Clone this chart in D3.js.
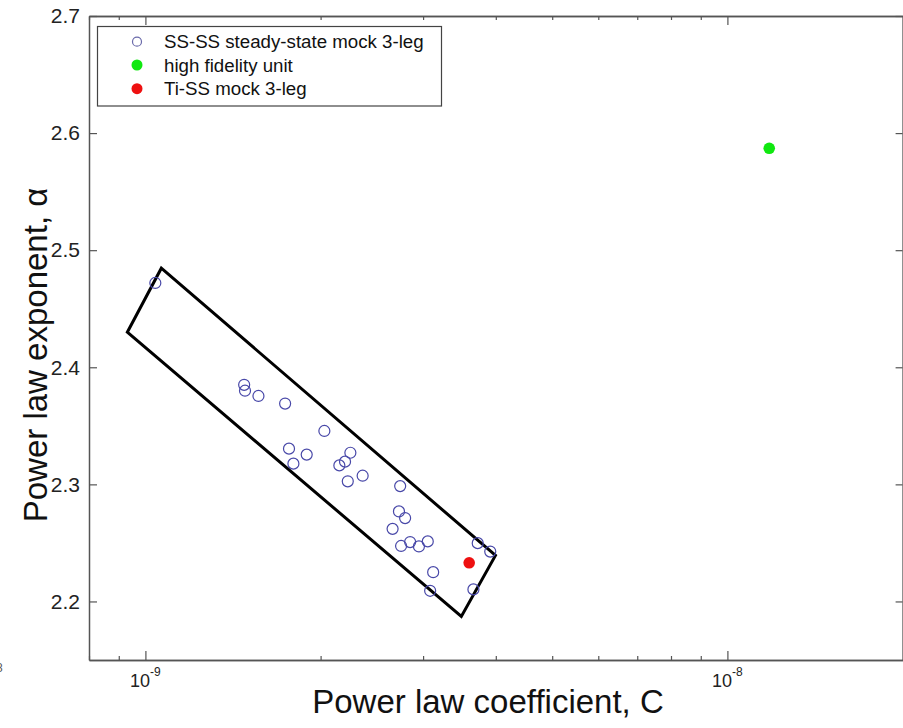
<!DOCTYPE html>
<html>
<head>
<meta charset="utf-8">
<script src="https://cdn.jsdelivr.net/npm/d3@7"></script>
<style>
  body { margin: 0; background: #fff; }
  svg { display: block; font-family: "Liberation Sans", Arial, sans-serif; }
</style>
</head>
<body>
<svg id="chart" width="903" height="728"></svg>
<script>
// SS-SS steady-state mock 3-leg (C in units of 1e-9)
const ssC = [1.04, 1.478, 1.483, 1.564, 1.738, 2.030, 1.765, 1.893, 1.796, 2.250, 2.203, 2.154, 2.227, 2.362,
             2.740, 2.727, 2.794, 2.659, 2.750, 2.850, 2.951, 3.056, 3.724, 3.913, 3.122, 3.085, 3.661];
const ssAlpha = [2.472, 2.385, 2.380, 2.3755, 2.369, 2.3456, 2.3305, 2.3254, 2.3177, 2.327, 2.3194, 2.3162, 2.3026, 2.3074,
                 2.2985, 2.2769, 2.2712, 2.262, 2.2474, 2.2507, 2.247, 2.2513, 2.2498, 2.2426, 2.225, 2.2091, 2.2103];

// single points
const hifiC = [11.8];
const hifiAlpha = [2.587];
const tiC = [3.60];
const tiAlpha = [2.233];

// outline drawn round the SS-SS cloud
const boxC = [1.065, 3.995, 3.49, 0.931];
const boxAlpha = [2.4846, 2.2393, 2.1872, 2.4299];

const yTicks = [2.2, 2.3, 2.4, 2.5, 2.6, 2.7];
const xMajor = [1e-9, 1e-8];
const xMinor = [8e-10, 9e-10, 2e-9, 3e-9, 4e-9, 5e-9, 6e-9, 7e-9, 8e-9, 9e-9];
const legendLabels = ['SS-SS steady-state mock 3-leg', 'high fidelity unit', 'Ti-SS mock 3-leg'];

const svg = d3.select('#chart');
const plotLeft = 89, plotRight = 902.6, plotTop = 16, plotBottom = 660;

let x = d3.scaleLog().domain([8e-10, 2e-8]).range([plotLeft, plotRight]);
let y = d3.scaleLinear().domain([2.15, 2.7]).range([plotBottom, plotTop]);

const axisColor = '#555';

function styleAxis(g) {
    g.selectAll('.domain').attr('stroke', axisColor).attr('stroke-width', 1.5);
    g.selectAll('.tick line').attr('stroke', axisColor).attr('stroke-width', 1.2);
    g.selectAll('.tick text').attr('fill', '#222').style('font-size', '21px');
}

// bottom & top log axes
svg.append('g').attr('transform', `translate(0,${plotBottom})`)
    .call(d3.axisBottom(x).tickValues(xMinor).tickSize(-4).tickSizeOuter(0).tickFormat(''))
    .call(styleAxis);
svg.append('g').attr('transform', `translate(0,${plotBottom})`)
    .call(d3.axisBottom(x).tickValues(xMajor).tickSize(-9).tickSizeOuter(0).tickFormat(''))
    .call(styleAxis);
svg.append('g').attr('transform', `translate(0,${plotTop})`)
    .call(d3.axisTop(x).tickValues(xMinor).tickSize(-4).tickSizeOuter(0).tickFormat(''))
    .call(styleAxis);
svg.append('g').attr('transform', `translate(0,${plotTop})`)
    .call(d3.axisTop(x).tickValues(xMajor).tickSize(-9).tickSizeOuter(0).tickFormat(''))
    .call(styleAxis);

// 10^n labels
let majorLabels = svg.append('g').selectAll('text').data(xMajor).join('text')
    .attr('x', d => x(d))
    .attr('y', 687)
    .attr('text-anchor', 'middle')
    .attr('fill', '#222')
    .style('font-size', '18px');
majorLabels.append('tspan').text('10');
majorLabels.append('tspan')
    .attr('dy', -11)
    .style('font-size', '12px')
    .text(d => Math.round(Math.log10(d)));

// left & right linear axes
svg.append('g').attr('transform', `translate(${plotLeft},0)`)
    .call(d3.axisLeft(y).tickValues(yTicks).tickSize(-8).tickSizeOuter(0).tickPadding(9).tickFormat(d3.format('.1f')))
    .call(styleAxis);
svg.append('g').attr('transform', `translate(${plotRight},0)`)
    .call(d3.axisRight(y).tickValues(yTicks).tickSize(-7).tickSizeOuter(0).tickFormat(''))
    .call(styleAxis);

// stray cut-off label at the far left
svg.append('text').attr('x', -4).attr('y', 672).attr('fill', '#555').style('font-size', '12px').text('8');

// outline box
let boxPts = boxC.map((c, i) => [x(c * 1e-9), y(boxAlpha[i])]);
svg.append('path')
    .attr('d', d3.line()(boxPts) + 'Z')
    .attr('fill', 'none')
    .attr('stroke', '#000')
    .attr('stroke-width', 3)
    .attr('stroke-linejoin', 'miter');

// SS-SS open circles
svg.append('g').selectAll('circle').data(ssC).join('circle')
    .attr('cx', d => x(d * 1e-9))
    .attr('cy', (d, i) => y(ssAlpha[i]))
    .attr('r', 5.5)
    .attr('fill', 'none')
    .attr('stroke', '#4848a8')
    .attr('stroke-width', 1.2);

svg.append('g').selectAll('circle').data(hifiC).join('circle')
    .attr('cx', d => x(d * 1e-9))
    .attr('cy', (d, i) => y(hifiAlpha[i]))
    .attr('r', 5.8)
    .attr('fill', '#10e810');

svg.append('g').selectAll('circle').data(tiC).join('circle')
    .attr('cx', d => x(d * 1e-9))
    .attr('cy', (d, i) => y(tiAlpha[i]))
    .attr('r', 5.8)
    .attr('fill', '#ee1010');

// legend
let legend = svg.append('g');
legend.append('rect')
    .attr('x', 97.5).attr('y', 26.5).attr('width', 344).attr('height', 79.5)
    .attr('fill', '#fff').attr('stroke', '#444').attr('stroke-width', 1.2);
const legendY = [41.7, 65, 88.7];
legend.append('circle').attr('cx', 137).attr('cy', legendY[0]).attr('r', 4.5)
    .attr('fill', 'none').attr('stroke', '#6a6aaa').attr('stroke-width', 1.2);
legend.append('circle').attr('cx', 137).attr('cy', legendY[1]).attr('r', 5.5).attr('fill', '#10e810');
legend.append('circle').attr('cx', 137).attr('cy', legendY[2]).attr('r', 5.5).attr('fill', '#ee1010');
legend.selectAll('text').data(legendLabels).join('text')
    .attr('x', 164)
    .attr('y', (d, i) => legendY[i] + 6.5)
    .attr('fill', '#111')
    .style('font-size', '18.7px')
    .text(d => d);

// axis titles
svg.append('text')
    .attr('x', 488).attr('y', 713)
    .attr('text-anchor', 'middle')
    .attr('fill', '#111')
    .style('font-size', '33px')
    .text('Power law coefficient, C');

svg.append('text')
    .attr('transform', 'translate(47,355) rotate(-90)')
    .attr('text-anchor', 'middle')
    .attr('fill', '#111')
    .style('font-size', '33px')
    .text('Power law exponent, α');
</script>
</body>
</html>
